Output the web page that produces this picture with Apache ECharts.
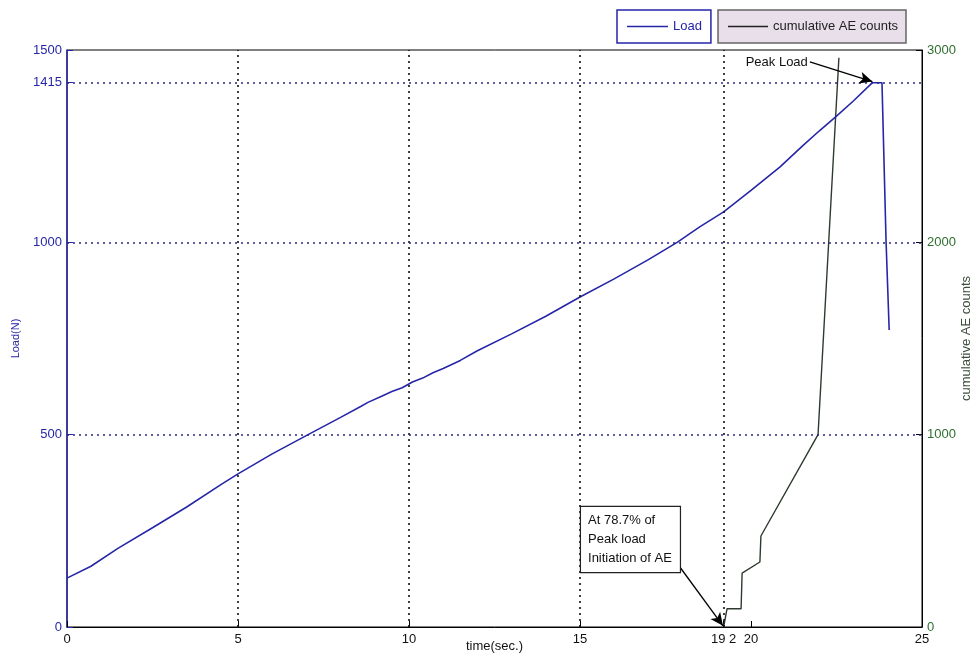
<!DOCTYPE html>
<html><head><meta charset="utf-8">
<script src="https://cdn.jsdelivr.net/npm/echarts@6/dist/echarts.min.js"></script>
<style>html,body{margin:0;padding:0;background:#fff}#c{width:979px;height:657px}</style>
</head><body><div id="c"></div>
<script>
// ---- data ----
const loadTime = [0, 0.7, 1.5, 2.5, 3.5, 4.5, 5, 6, 7.05, 8, 8.6, 8.8, 9.2, 9.5, 9.8, 10.1, 10.4, 10.7, 11, 11.5, 12, 13, 14, 15, 16, 17, 17.84, 18.5, 19.2, 20, 20.85, 21.5, 22, 22.5, 23, 23.55, 23.83, 23.95, 24.04];
const loadValues = [127, 158, 205, 258, 312, 370, 398, 450, 500, 545, 574, 584, 600, 612, 622, 637, 647, 661, 672, 693, 718, 762, 808, 858, 905, 955, 1000, 1040, 1079, 1135, 1196, 1250, 1290, 1328, 1368, 1415, 1415, 1000, 772];
const aeTime = [19.2, 19.3, 19.71, 19.74, 20.26, 20.29, 21.96, 22.57];
const aeCounts = [0, 95, 95, 280, 338, 473, 1000, 2960];
const xTicks = [0, 5, 10, 15, 19.2, 20, 25];
const xTickLabels = ['0', '5', '10', '15', '19 2', '20', '25'];
const loadTicks = [0, 500, 1000, 1415, 1500];
const aeTicks = [0, 1000, 2000, 3000];
const xGridValues = [5, 10, 15, 19.2];
const loadGridValues = [500, 1000, 1415];
const peakLoadArrow = [[21.72, 1469], [23.55, 1418]];
const initArrow = [[17.92, 156], [19.18, 3]];
const initBoxAnchor = [15.03, 312];

const BLUE = '#2626a8';
const GREEN = '#2f6e2f';
const FONT = "'Liberation Sans', Arial, sans-serif";

const chart = echarts.init(document.getElementById('c'), null, {renderer: 'canvas'});
const zip = (a, b) => a.map((v, i) => [v, b[i]]);

const option = {
  animation: false,
  backgroundColor: '#fff',
  textStyle: {fontFamily: FONT},
  grid: {left: 67, right: 57, top: 50, bottom: 30, outerBoundsMode: 'none', containLabel: false,
         show: true, borderColor: '#000', borderWidth: 1, backgroundColor: 'transparent'},
  legend: [
    {data: ['Load'], left: 617, top: 10, orient: 'horizontal', padding: [9, 9, 9, 10],
     icon: 'rect', itemWidth: 41, itemHeight: 1.5, borderColor: BLUE, borderWidth: 1.5, backgroundColor: '#fff',
     textStyle: {color: BLUE, fontSize: 13, fontFamily: FONT, lineHeight: 15}, selectedMode: false},
    {data: ['cumulative AE counts'], left: 718, top: 10, orient: 'horizontal', padding: [9, 8, 9, 10],
     icon: 'rect', itemWidth: 40, itemHeight: 1.5, borderColor: '#666', borderWidth: 1.5, backgroundColor: '#e8dfea',
     textStyle: {color: '#222', fontSize: 13, fontFamily: FONT, lineHeight: 15}, selectedMode: false}
  ],
  xAxis: [{
    type: 'value', min: 0, max: 25,
    name: 'time(sec.)', nameLocation: 'middle', nameGap: 13, nameMoveOverlap: false,
    nameTextStyle: {color: '#111', fontSize: 13, fontFamily: FONT},
    axisLine: {show: true, lineStyle: {color: '#000', width: 1}},
    axisTick: {show: true, inside: true, length: 6, customValues: xTicks, lineStyle: {color: '#000'}},
    axisLabel: {show: true, customValues: xTicks, margin: 6, color: '#111', fontSize: 13, fontFamily: FONT,
      formatter: v => { const i = xTicks.indexOf(v); return i >= 0 ? xTickLabels[i] : ''; }},
    splitLine: {show: false}
  }],
  yAxis: [{
    type: 'value', min: 0, max: 1500, position: 'left',
    name: 'Load(N)', nameLocation: 'middle', nameGap: 46, nameMoveOverlap: false,
    nameTextStyle: {color: BLUE, fontSize: 11, fontFamily: FONT},
    axisLine: {show: true, lineStyle: {color: BLUE, width: 1.5}},
    axisTick: {show: true, inside: true, length: 6, customValues: loadTicks, lineStyle: {color: BLUE}},
    axisLabel: {show: true, customValues: loadTicks, margin: 5, color: BLUE, fontSize: 13, fontFamily: FONT,
      formatter: v => String(v)},
    splitLine: {show: false}
  }, {
    type: 'value', min: 0, max: 3000, interval: 1000, position: 'right',
    name: 'cumulative AE counts', nameLocation: 'middle', nameGap: 38, nameMoveOverlap: false,
    nameTextStyle: {color: '#3d4d3d', fontSize: 13, fontFamily: FONT},
    axisLine: {show: true, lineStyle: {color: '#000', width: 1}},
    axisTick: {show: true, inside: true, length: 6, lineStyle: {color: '#000'}},
    axisLabel: {show: true, margin: 5, color: GREEN, fontSize: 13, fontFamily: FONT, formatter: v => String(v)},
    splitLine: {show: false}
  }],
  series: [
    {
      name: 'Load', type: 'line', xAxisIndex: 0, yAxisIndex: 0,
      data: zip(loadTime, loadValues), symbol: 'none', color: BLUE,
      lineStyle: {color: BLUE, width: 1.6}, z: 3,
      markLine: {
        silent: true, symbol: ['none', 'none'], label: {show: false}, animation: false,
        data: xGridValues.map(v => ({xAxis: v, lineStyle: {color: '#111', type: [2, 4], width: 1.6}}))
          .concat(loadGridValues.map(v => ({yAxis: v, lineStyle: {color: '#26268a', type: [2, 4], width: 1.6}})))
      }
    },
    {
      name: 'cumulative AE counts', type: 'line', xAxisIndex: 0, yAxisIndex: 1,
      data: zip(aeTime, aeCounts), symbol: 'none', color: '#222',
      lineStyle: {color: '#2e3a2e', width: 1.4}, z: 2
    },
    {
      name: 'annotations', type: 'line', xAxisIndex: 0, yAxisIndex: 0, data: [], symbol: 'none', z: 5,
      markLine: {
        silent: true, symbol: ['none', 'arrow'], symbolSize: [9, 13], animation: false,
        label: {show: false},
        lineStyle: {color: '#000', type: 'solid', width: 1.3},
        itemStyle: {color: '#000'},
        data: [
          [{coord: peakLoadArrow[0]}, {coord: peakLoadArrow[1]}],
          [{coord: initArrow[0]}, {coord: initArrow[1]}]
        ]
      },
      markPoint: {
        silent: true, symbol: 'circle', symbolSize: 0, animation: false,
        data: [
          {coord: peakLoadArrow[0], label: {show: true, position: 'left', distance: 2, formatter: 'Peak Load',
            color: '#111', fontSize: 13, fontFamily: FONT}},
          {coord: initBoxAnchor, label: {show: true, position: [0, 0], align: 'left', verticalAlign: 'top',
            formatter: 'At 78.7% of\nPeak load\nInitiation of AE',
            color: '#111', fontSize: 13, fontFamily: FONT, lineHeight: 19,
            backgroundColor: '#fff', borderColor: '#222', borderWidth: 1.2, padding: [4, 8, 4, 7]}}
        ]
      }
    }
  ]
};
chart.setOption(option);
</script>
</body></html>
